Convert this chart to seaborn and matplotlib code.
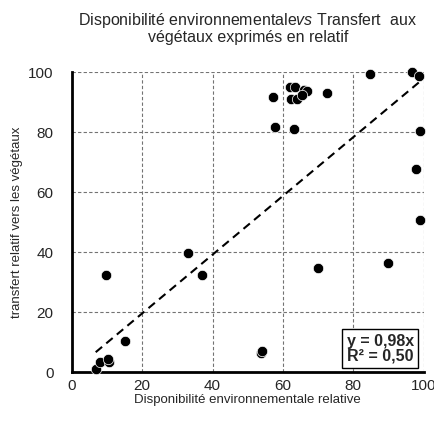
import numpy as np
import pandas as pd
import matplotlib
matplotlib.use("Agg")
import matplotlib.pyplot as plt
import seaborn as sns

# Values
dispo = [6.8, 8.0, 10.7, 10.3, 15.1, 9.8, 33.1, 36.9, 53.7, 54.0, 69.9, 89.9, 98.9,
         57.3, 57.8, 62.1, 63.4, 62.3, 63.9, 63.2, 66.0, 66.7, 65.3, 72.5,
         84.7, 96.6, 98.7, 98.9, 97.7]
transfert = [1.1, 3.5, 3.5, 4.3, 10.4, 32.3, 39.9, 32.3, 6.5, 7.2, 34.9, 36.3, 50.8,
             91.7, 81.9, 95.3, 95.3, 91.2, 91.0, 81.2, 94.1, 93.8, 92.3, 93.0,
             99.4, 100.2, 98.8, 80.5, 67.7]
slope = 0.98
r2 = 0.50

df = pd.DataFrame({"dispo": dispo, "transfert": transfert})

sns.set_style("white")
plt.rcParams["font.family"] = ["Liberation Sans", "DejaVu Sans"]
plt.rcParams["mathtext.fontset"] = "custom"
plt.rcParams["mathtext.it"] = "Liberation Sans:italic"
plt.rcParams["mathtext.rm"] = "Liberation Sans"

fig = plt.figure(figsize=(4.35, 4.21), dpi=100)
ax = fig.add_axes([0.165, 0.116, 0.809, 0.712])

sns.scatterplot(data=df, x="dispo", y="transfert", ax=ax, color="black",
                s=56, edgecolor="white", linewidth=0.5, clip_on=False, zorder=3)

# trend line through origin
xs = np.array([df["dispo"].min(), df["dispo"].max()])
ax.plot(xs, slope * xs, color="black", linestyle=(0, (4, 2.6)), linewidth=1.5, zorder=2)

ax.set_xlim(0, 100)
ax.set_ylim(0, 100)
ax.set_xticks([0, 20, 40, 60, 80, 100])
ax.set_yticks([0, 20, 40, 60, 80, 100])
ax.tick_params(axis="x", labelsize=11, length=0, pad=5)
ax.tick_params(axis="y", labelsize=11, length=0, pad=13)
ax.grid(True, color="0.45", linestyle=(0, (3, 2)), linewidth=0.8)
ax.set_axisbelow(True)

for side in ["top", "right"]:
    ax.spines[side].set_visible(False)
for side in ["left", "bottom"]:
    ax.spines[side].set_color("black")
    ax.spines[side].set_linewidth(2)

ax.set_xlabel("Disponibilité environnementale relative", fontsize=9.5, labelpad=0.5)
ax.set_ylabel("transfert relatif vers les végétaux", fontsize=9.5, labelpad=4)
ax.set_title("Disponibilité environnementale$\\it{vs}$ Transfert  aux\nvégétaux exprimés en relatif",
             fontsize=11.5, pad=22, linespacing=1.0)

ax.text(0.972, 0.03, "y = %sx\nR² = %s" % (("%.2f" % slope).replace(".", ","),
                                         ("%.2f" % r2).replace(".", ",")),
        transform=ax.transAxes, ha="right", va="bottom", fontsize=11.5,
        fontweight="bold", linespacing=0.95, zorder=5,
        bbox=dict(boxstyle="square,pad=0.28", facecolor="white", edgecolor="black", linewidth=1))

fig.savefig("out.png", dpi=100)
